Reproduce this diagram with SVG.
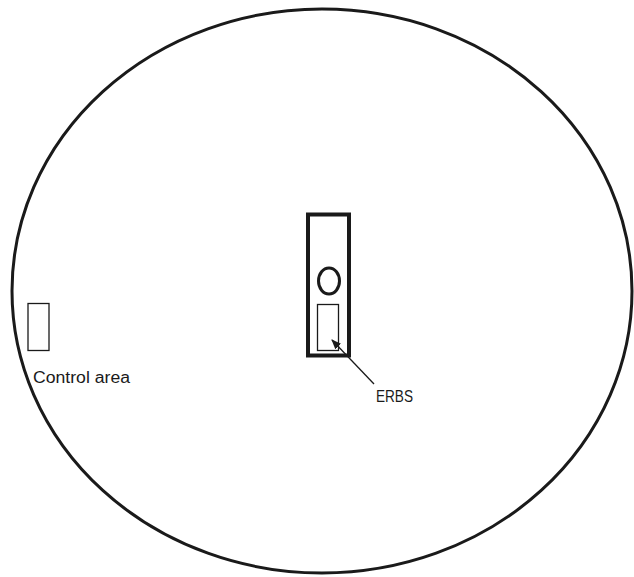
<svg xmlns="http://www.w3.org/2000/svg" width="634" height="577" viewBox="0 0 634 577">
<style>
.ln{fill:none;stroke:#1a1a1a}
.lbl{font-family:"Liberation Sans",Arial,sans-serif;fill:#1a1a1a}
</style>
<defs>
<marker id="ah" viewBox="0 0 10 10" refX="9" refY="5" markerWidth="10" markerHeight="10" markerUnits="userSpaceOnUse" orient="auto">
<path d="M0,1 L10,5 L0,9 z" fill="#1a1a1a"/>
</marker>
</defs>
<rect width="634" height="577" fill="#fff"/>
<g id="area">
<ellipse class="ln" cx="322" cy="291" rx="310" ry="282" stroke-width="3"/>
</g>
<g id="erbs-unit">
<rect class="ln" x="308" y="214.5" width="41" height="141" stroke-width="4"/>
<ellipse class="ln" cx="329" cy="281" rx="10.5" ry="13" stroke-width="3"/>
<rect class="ln" x="317.5" y="304.5" width="21" height="46" stroke-width="1.3"/>
</g>
<g id="control-area">
<rect class="ln" x="28" y="303.5" width="21" height="47" stroke-width="1.3"/>
<text class="lbl" x="33" y="383" font-size="16" textLength="97" lengthAdjust="spacingAndGlyphs">Control area</text>
</g>
<g id="erbs-label">
<text class="lbl" x="376" y="402" font-size="16.5" textLength="37" lengthAdjust="spacingAndGlyphs">ERBS</text>
</g>
<g id="connectors">
<line class="ln" x1="374" y1="384" x2="332" y2="340" stroke-width="1.3" marker-end="url(#ah)"/>
</g>
</svg>
